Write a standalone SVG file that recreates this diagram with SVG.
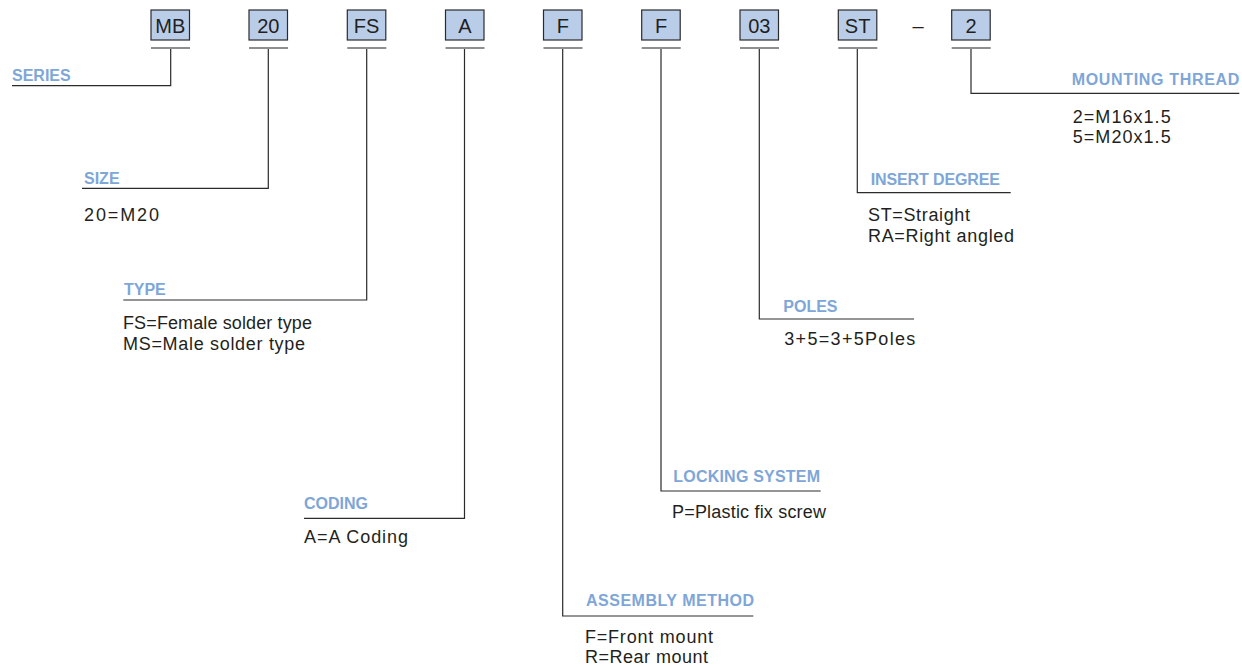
<svg xmlns="http://www.w3.org/2000/svg" width="1242" height="667" viewBox="0 0 1242 667">
<style>
.box{fill:#b9cde8;stroke:#2b2b2b;stroke-width:1.2}
.bar{stroke:#8e8e8e;stroke-width:2}
.code{font-family:"Liberation Sans",Arial,sans-serif;font-size:20px;fill:#231f20;text-anchor:middle}
.head{font-family:"Liberation Sans",Arial,sans-serif;font-size:16px;font-weight:bold;fill:#7ea6d8}
.body{font-family:"Liberation Sans",Arial,sans-serif;font-size:18px;fill:#231f20}
.conn{fill:none;stroke:#2b2b2b;stroke-width:1.2}
</style>
<rect width="1242" height="667" fill="#ffffff"/>
<g id="codes">
<g id="code-MB"><rect class="box" x="151" y="10" width="38.5" height="30"/><line class="bar" x1="151" y1="48" x2="190" y2="48"/><text class="code" x="170.3" y="33">MB</text></g>
<g id="code-20"><rect class="box" x="249" y="10" width="38.5" height="30"/><line class="bar" x1="249" y1="48" x2="288" y2="48"/><text class="code" x="268.3" y="33">20</text></g>
<g id="code-FS"><rect class="box" x="347.3" y="10" width="38.5" height="30"/><line class="bar" x1="347.3" y1="48" x2="386.3" y2="48"/><text class="code" x="366.6" y="33">FS</text></g>
<g id="code-A"><rect class="box" x="445.5" y="10" width="38.5" height="30"/><line class="bar" x1="445.5" y1="48" x2="484.5" y2="48"/><text class="code" x="464.8" y="33">A</text></g>
<g id="code-F1"><rect class="box" x="543.5" y="10" width="38.5" height="30"/><line class="bar" x1="543.5" y1="48" x2="582.5" y2="48"/><text class="code" x="562.8" y="33">F</text></g>
<g id="code-F2"><rect class="box" x="641.7" y="10" width="38.5" height="30"/><line class="bar" x1="641.7" y1="48" x2="680.7" y2="48"/><text class="code" x="661" y="33">F</text></g>
<g id="code-03"><rect class="box" x="740" y="10" width="38.5" height="30"/><line class="bar" x1="740" y1="48" x2="779" y2="48"/><text class="code" x="759.3" y="33">03</text></g>
<g id="code-ST"><rect class="box" x="838.3" y="10" width="38.5" height="30"/><line class="bar" x1="838.3" y1="48" x2="877.3" y2="48"/><text class="code" x="857.6" y="33">ST</text></g>
<text id="dash" class="code" x="918" y="33">–</text>
<g id="code-2"><rect class="box" x="951.7" y="10" width="38.5" height="30"/><line class="bar" x1="951.7" y1="48" x2="990.7" y2="48"/><text class="code" x="971" y="33">2</text></g>
</g>
<g id="connectors">
<path class="conn" d="M170.7 49 V85.7 H12"/>
<path class="conn" d="M268.3 49 V188.3 H82"/>
<path class="conn" d="M366.7 49 V300 H123.3"/>
<path class="conn" d="M464.5 49 V518.3 H304"/>
<path class="conn" d="M562.7 49 V616 H753.3"/>
<path class="conn" d="M661 49 V491 H820.7"/>
<path class="conn" d="M759.3 49 V319 H914"/>
<path class="conn" d="M857.3 49 V192.7 H1010.7"/>
<path class="conn" d="M971 49 V93.3 H1239.3"/>
</g>
<g id="series"><text class="head" x="12" y="81">SERIES</text></g>
<g id="size"><text class="head" x="84" y="183.5">SIZE</text><text class="body" x="84" y="220.5" textLength="75" lengthAdjust="spacing">20=M20</text></g>
<g id="type"><text class="head" x="124" y="295">TYPE</text><text class="body" x="123" y="329.3" textLength="189" lengthAdjust="spacing">FS=Female solder type</text><text class="body" x="123" y="350" textLength="182" lengthAdjust="spacing">MS=Male solder type</text></g>
<g id="coding"><text class="head" x="304" y="509.3">CODING</text><text class="body" x="304" y="543.3" textLength="104" lengthAdjust="spacing">A=A Coding</text></g>
<g id="assembly"><text class="head" x="586" y="606" textLength="168" lengthAdjust="spacing">ASSEMBLY METHOD</text><text class="body" x="585" y="642.7" textLength="128" lengthAdjust="spacing">F=Front mount</text><text class="body" x="585" y="663.3" textLength="123" lengthAdjust="spacing">R=Rear mount</text></g>
<g id="locking"><text class="head" x="673.3" y="481.7" textLength="146.7" lengthAdjust="spacing">LOCKING SYSTEM</text><text class="body" x="672" y="517.7" textLength="154" lengthAdjust="spacing">P=Plastic fix screw</text></g>
<g id="poles"><text class="head" x="783.3" y="311.7">POLES</text><text class="body" x="784.3" y="345" textLength="131" lengthAdjust="spacing">3+5=3+5Poles</text></g>
<g id="insert"><text class="head" x="870.7" y="185" textLength="129.3" lengthAdjust="spacing">INSERT DEGREE</text><text class="body" x="868" y="221" textLength="102" lengthAdjust="spacing">ST=Straight</text><text class="body" x="868" y="241.7" textLength="146" lengthAdjust="spacing">RA=Right angled</text></g>
<g id="mounting"><text class="head" x="1071.7" y="85" textLength="167.6" lengthAdjust="spacing">MOUNTING THREAD</text><text class="body" x="1072.7" y="122.7" textLength="98" lengthAdjust="spacing">2=M16x1.5</text><text class="body" x="1072.7" y="143.3" textLength="98" lengthAdjust="spacing">5=M20x1.5</text></g>
</svg>
